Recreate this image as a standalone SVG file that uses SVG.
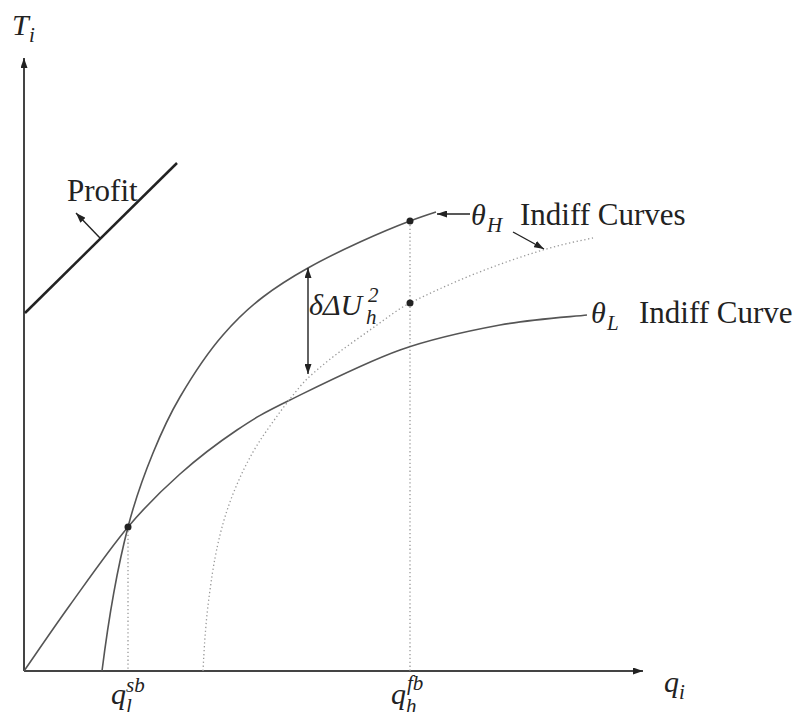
<svg xmlns="http://www.w3.org/2000/svg" width="799" height="712" viewBox="0 0 799 712">
<defs>
<marker id="ah" markerUnits="userSpaceOnUse" markerWidth="10" markerHeight="7" refX="10" refY="3.5" orient="auto-start-reverse">
<path d="M0,0 L10,3.5 L0,7 z" fill="#222"/>
</marker>
<style>
.axis{stroke:#444;stroke-width:2;fill:none}
.curve{stroke:#555;stroke-width:1.6;fill:none}
.dot{stroke:#999;stroke-width:1.3;fill:none;stroke-dasharray:1.3 2.6}
.arr{stroke:#222;stroke-width:1.4;fill:none}
.pt{fill:#222}
text{font-family:'Liberation Serif','Times New Roman',serif;fill:#222}
.rm{font-size:31px}
.it{font-size:30px;font-style:italic}
.sub{font-size:21px;font-style:italic}
</style>
</defs>
<rect width="799" height="712" fill="#fff"/>
<g id="axes">
<line class="axis" x1="24" y1="671" x2="24" y2="58" marker-end="url(#ah)"/>
<line class="axis" x1="24" y1="671" x2="643" y2="671" marker-end="url(#ah)"/>
<text class="it" x="12" y="35">T</text><text class="sub" x="29" y="42">i</text>
<text class="it" x="664" y="692">q</text><text class="sub" x="679" y="699">i</text>
</g>
<g id="guides">
<line class="dot" x1="128" y1="527" x2="128" y2="671"/>
<line class="dot" x1="410" y1="221" x2="410" y2="671"/>
</g>
<g id="profit">
<line x1="25" y1="313" x2="177" y2="163" stroke="#222" stroke-width="2.5"/>
<line class="arr" x1="100" y1="238" x2="76" y2="213" marker-end="url(#ah)"/>
<text class="rm" x="67" y="201">Profit</text>
</g>
<g id="theta-L-curve">
<path class="curve" d="M24,671 C31.7,660 52.7,629 70,605 C87.3,581 109.7,548.8 128,527 C146.3,505.2 161.8,490.2 180,474 C198.2,457.8 218.7,442.3 237,430 C255.3,417.7 262.8,413.3 290,400 C317.2,386.7 365,362.5 400,350 C435,337.5 468.8,330.8 500,325 C531.2,319.2 572.5,316.7 587,315"/>
<text class="it" x="591" y="323">θ</text><text class="sub" x="607" y="330">L</text>
<text class="rm" x="639" y="323">Indiff Curve</text>
</g>
<g id="theta-H-curve">
<path class="curve" d="M102,671 C110.7,601.7 119.3,560.5 128,527 C136.3,494.8 144.7,473.3 153,453 C162,431 171,412.3 180,397 C194.3,372.6 208.7,351.4 223,335 C236.3,319.7 249.7,307.2 263,297 C278,285.5 293,276.4 308,268 C325.3,258.2 342.7,249.9 360,242 C376.7,234.4 393.3,227.3 410,221 C418.7,217.7 427.3,214.8 436,212"/>
<path class="dot" d="M203,671 C205.3,624.3 207.7,607.4 210,590 C213.3,565.1 216.7,548.3 220,535 C224.3,517.7 228.7,504.9 233,494 C239.7,477.2 246.3,463.8 253,452 C258.7,442 264.3,434.1 270,426 C276.7,416.5 283.3,407.3 290,399 C296,391.5 302,383.6 308,378 C331,356.7 354,341.4 377,325 C388,317.1 399,308.5 410,303 C454.3,280.9 498.7,263.3 543,250 C559.7,245 576.3,241.3 593,238"/>
<text class="it" x="471" y="225">θ</text><text class="sub" x="487" y="232">H</text>
<text class="rm" x="520" y="225">Indiff Curves</text>
</g>
<g id="connectors">
<line class="arr" x1="470" y1="214" x2="437" y2="214" marker-end="url(#ah)"/>
<line class="arr" x1="513" y1="232" x2="544" y2="249" marker-end="url(#ah)"/>
<line class="arr" x1="308" y1="268" x2="308" y2="374" marker-start="url(#ah)" marker-end="url(#ah)"/>
</g>
<g id="points">
<circle class="pt" cx="128" cy="527" r="3.5"/>
<circle class="pt" cx="410" cy="221" r="3.5"/>
<circle class="pt" cx="410" cy="303" r="3.5"/>
</g>
<g id="labels">
<text class="it" x="309" y="315">δΔU</text><text class="sub" x="368" y="302">2</text><text class="sub" x="366" y="324">h</text>
<text class="it" x="111" y="704">q</text><text class="sub" x="126" y="692">sb</text><text class="sub" x="126" y="713">l</text>
<text class="it" x="391" y="704">q</text><text class="sub" x="407" y="690">fb</text><text class="sub" x="406" y="713">h</text>
</g>
</svg>
